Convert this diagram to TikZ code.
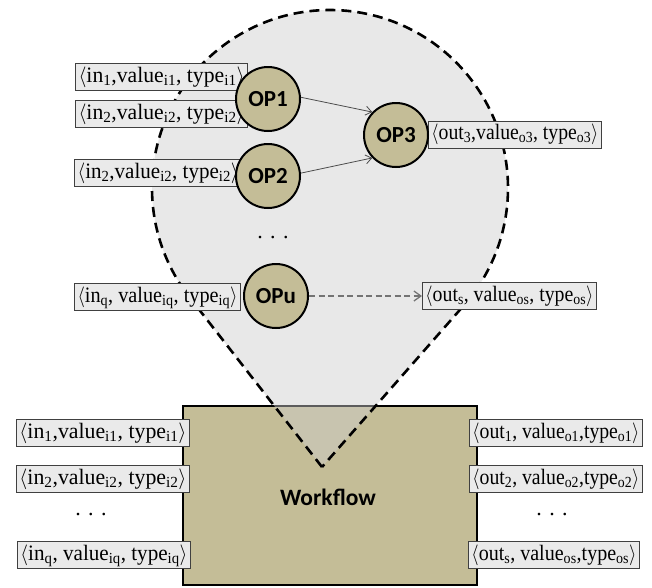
\documentclass[tikz,border=0pt]{standalone}
\usepackage{fontspec}
\setmainfont{Liberation Serif}
\newfontfamily\opfont{Carlito}
\usetikzlibrary{arrows.meta}
\definecolor{wftan}{HTML}{C4BD97}
\definecolor{lblgray}{HTML}{EAEAEA}
\definecolor{ballgray}{HTML}{CDCDCD}
\newcommand{\fitw}[2]{\resizebox{#1pt}{\height}{#2}}
\tikzset{
  lbl/.style={draw=black!75, line width=0.9pt, fill=lblgray, inner xsep=3pt, inner ysep=0pt,
    text height=16pt, text depth=5.5pt, minimum height=27pt, font=\fontsize{22}{26}\selectfont},
  opnode/.style={circle, draw=black, line width=2pt, fill=wftan, minimum size=64pt, inner sep=0pt,
    font=\opfont\bfseries\fontsize{23}{26}\selectfont},
  dotsnode/.style={inner sep=0pt, font=\fontsize{22}{26}\selectfont},
  thinarrow/.style={draw=black!70, line width=0.8pt, -{Straight Barb[length=6pt,width=9pt]}},
  dasharrow/.style={draw=black!55, line width=1.3pt, dash pattern=on 6pt off 3.5pt, -{Straight Barb[length=7pt,width=10pt]}},
  balloon/.style={draw=black, line width=2.6pt, dash pattern=on 10pt off 6pt, fill=ballgray, fill opacity=0.45, draw opacity=1},
  wfbox/.style={draw=black, line width=2.5pt, fill=wftan, minimum width=294pt, minimum height=179pt, inner sep=0pt},
  wftext/.style={inner sep=0pt, font=\opfont\bfseries\fontsize{23.5}{26}\selectfont}
}
\begin{document}
\begin{tikzpicture}[x=1pt,y=1pt]
\useasboundingbox (0,0) rectangle (652,-587);
% workflow box
\node[wfbox] (wf) at (330,-495.5) {};
\node[wftext] (wft) at (328,-497) {Workflow};
% balloon
\coordinate (bc) at (330,-188);
\coordinate (tip) at (322,-467);
\draw[balloon] (tip) -- ([shift={(bc)}]217.96:178) arc[start angle=217.96, end angle=-41.24, radius=178] -- cycle;
% balloon labels
\node[lbl, anchor=east] (l1) at (248,-77) {\fitw{166}{$\langle$in\textsubscript{1},value\textsubscript{i1}, type\textsubscript{i1}$\rangle$}};
\node[lbl, anchor=east] (l2) at (248,-114) {\fitw{166}{$\langle$in\textsubscript{2},value\textsubscript{i2}, type\textsubscript{i2}$\rangle$}};
\node[lbl, anchor=east] (l3) at (242,-173) {\fitw{161}{$\langle$in\textsubscript{2},value\textsubscript{i2}, type\textsubscript{i2}$\rangle$}};
\node[lbl, anchor=east] (lq) at (241,-297) {\fitw{160}{$\langle$in\textsubscript{q}, value\textsubscript{iq}, type\textsubscript{iq}$\rangle$}};
\node[lbl, anchor=west] (o3) at (428,-134.5) {\fitw{167}{$\langle$out\textsubscript{3},value\textsubscript{o3}, type\textsubscript{o3}$\rangle$}};
\node[lbl, anchor=west] (os) at (422,-296) {\fitw{168}{$\langle$out\textsubscript{s}, value\textsubscript{os}, type\textsubscript{os}$\rangle$}};
\node[dotsnode] (d1) at (273,-238) {. . .};
% workflow labels
\node[lbl, anchor=west] (wl1) at (16,-433) {\fitw{167}{$\langle$in\textsubscript{1},value\textsubscript{i1}, type\textsubscript{i1}$\rangle$}};
\node[lbl, anchor=west] (wl2) at (16,-479) {\fitw{167}{$\langle$in\textsubscript{2},value\textsubscript{i2}, type\textsubscript{i2}$\rangle$}};
\node[dotsnode] (wld) at (91,-514) {. . .};
\node[lbl, anchor=west] (wlq) at (17,-555) {\fitw{167}{$\langle$in\textsubscript{q}, value\textsubscript{iq}, type\textsubscript{iq}$\rangle$}};
\node[lbl, anchor=west] (wr1) at (469,-433) {\fitw{167}{$\langle$out\textsubscript{1}, value\textsubscript{o1},type\textsubscript{o1}$\rangle$}};
\node[lbl, anchor=west] (wr2) at (469,-479) {\fitw{167}{$\langle$out\textsubscript{2}, value\textsubscript{o2},type\textsubscript{o2}$\rangle$}};
\node[dotsnode] (wrd) at (552,-514) {. . .};
\node[lbl, anchor=west] (wrs) at (468,-555) {\fitw{165}{$\langle$out\textsubscript{s}, value\textsubscript{os},type\textsubscript{os}$\rangle$}};
% operators
\node[opnode] (op1) at (268,-99) {OP1};
\node[opnode] (op2) at (268,-176) {OP2};
\node[opnode] (op3) at (396,-135) {OP3};
\node[opnode] (opu) at (276,-296) {OPu};
% connectors
\draw[thinarrow] (op1.3) -- (op3.136);
\draw[thinarrow] (op2.5) -- (op3.224);
\draw[dasharrow] (opu) -- (os);
\end{tikzpicture}
\end{document}
